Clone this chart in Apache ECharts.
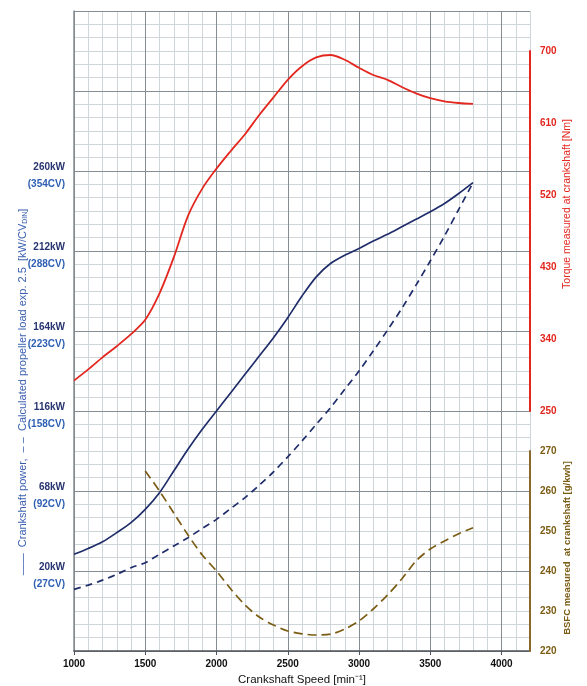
<!DOCTYPE html>
<html>
<head>
<meta charset="utf-8">
<script src="https://cdn.jsdelivr.net/npm/echarts@6/dist/echarts.min.js"></script>
<style>
html,body{margin:0;padding:0;background:#fff;}
#chart{width:587px;height:686px;}
</style>
</head>
<body>
<div id="chart"></div>
<script>
// ---- data ----
const rpm = [1000,1100,1200,1300,1400,1500,1600,1700,1800,1900,2000,2100,2200,2300,2400,2500,2600,2700,2800,2900,3000,3100,3200,3300,3400,3500,3600,3700,3800];
const powerKW = [30,33.5,37.5,43,49,57,67,80,93,105,116,127,138,149,160,172,185,196.5,204.5,209.5,213.5,218,222,226.5,231,235.5,240.5,246.5,253];
const propellerKW = [9,11.5,14.5,18,22,25,30,35,40,45.5,51,57.5,64,71.5,79.5,88.5,98,108,118,129,140,152,164.5,177.5,191.5,206,221,237,253];
const torqueNm = [288,302,317,331,346,364,397,442,494,528,553,575,596,620,642,664,681,692,695,689,679,670,664,655,647,641,637,635,634];
const bsfcRpm = [1500,1600,1700,1800,1900,2000,2100,2200,2300,2400,2500,2600,2700,2800,2900,3000,3100,3200,3300,3400,3500,3600,3700,3800];
const bsfc = [265,260,254.5,249,244,240,235.5,231.5,228.5,226.5,225,224.3,224,224.2,225.5,227.5,230.5,234,238,242.5,245.5,247.5,249.3,250.8];

const kwTicks = [20,68,116,164,212,260];
const cvTicks = [27,92,158,223,288,354];
const torqueTicks = [250,340,430,520,610,700];
const bsfcTicks = [220,230,240,250,260,270];
const xTicks = [1000,1500,2000,2500,3000,3500,4000];

const zip = (xs, ys) => xs.map((x, i) => [x, ys[i]]);

const FONT = '"Liberation Sans", Arial, sans-serif';
const NAVY = '#1f2d6b';
const RED = '#e3271f';
const BROWN = '#7b5c14';
const MAJOR = '#858c92';
const MINOR = '#cfd6d9';

const chart = echarts.init(document.getElementById('chart'), null, {renderer: 'canvas'});

const G = {left: 74, right: 57, outerBoundsMode: 'none', containLabel: false};
const option = {
  backgroundColor: '#ffffff',
  animation: false,
  grid: [
    Object.assign({top: 11, bottom: 35}, G),
    Object.assign({top: 51, bottom: 275}, G),
    Object.assign({top: 451, bottom: 35}, G)
  ],
  xAxis: [
    {gridIndex: 0, type: 'value', position: 'bottom', min: 1000, max: 4200, interval: 100, z: 1,
      axisLine: {show: false}, axisTick: {show: false}, axisLabel: {show: false},
      splitLine: {show: true, lineStyle: {color: MINOR, width: 1}}},
    {gridIndex: 0, type: 'value', position: 'bottom', min: 1000, max: 4200, interval: 500, z: 2,
      axisLine: {show: true, onZero: false, lineStyle: {color: '#4d5359', width: 1.5}},
      axisTick: {show: true, length: 4, customValues: xTicks, lineStyle: {color: '#4d5359'}},
      axisLabel: {show: true, margin: 8, color: '#111', fontFamily: FONT, fontWeight: 'bold', fontSize: 10,
        customValues: xTicks, formatter: v => String(v)},
      splitLine: {show: true, lineStyle: {color: MAJOR, width: 1}},
      name: 'Crankshaft Speed [min\u207B\u00B9]', nameLocation: 'middle', nameGap: 23,
      nameTextStyle: {color: '#111', fontFamily: FONT, fontSize: 11.5}},
    {gridIndex: 1, type: 'value', min: 1000, max: 4200, show: false},
    {gridIndex: 2, type: 'value', min: 1000, max: 4200, show: false}
  ],
  yAxis: [
    {gridIndex: 0, type: 'value', min: 0, max: 48, interval: 1, z: 1,
      axisLine: {show: false}, axisTick: {show: false}, axisLabel: {show: false},
      splitLine: {show: true, lineStyle: {color: MINOR, width: 1}}},
    {gridIndex: 0, type: 'value', position: 'left', min: 0, max: 8, interval: 1, z: 2,
      axisLine: {show: true, onZero: false, lineStyle: {color: MAJOR, width: 1.5}},
      axisTick: {show: false}, axisLabel: {show: false},
      splitLine: {show: true, lineStyle: {color: MAJOR, width: 1}}},
    {gridIndex: 0, type: 'value', min: -28, max: 356, position: 'left', z: 3,
      axisLine: {show: false}, axisTick: {show: false}, splitLine: {show: false},
      axisLabel: {show: true, margin: 9, customValues: kwTicks, align: 'right',
        padding: [9, 0, 0, 0],
        formatter: v => {
          const i = kwTicks.indexOf(v);
          return '{kw|' + v + 'kW}\n{cv|(' + cvTicks[i] + 'CV)}';
        },
        rich: {
          kw: {color: '#27346f', fontFamily: FONT, fontWeight: 'bold', fontSize: 10, lineHeight: 17, align: 'right'},
          cv: {color: '#2f5fb3', fontFamily: FONT, fontWeight: 'bold', fontSize: 10, lineHeight: 17, align: 'right'}
        }}},
    {gridIndex: 1, type: 'value', min: 250, max: 700, position: 'right', z: 10,
      axisLine: {show: true, onZero: false, lineStyle: {color: RED, width: 2}},
      axisTick: {show: false}, splitLine: {show: false},
      axisLabel: {show: true, margin: 10, customValues: torqueTicks, color: RED,
        fontFamily: FONT, fontWeight: 'bold', fontSize: 10}},
    {gridIndex: 2, type: 'value', min: 220, max: 270, position: 'right', z: 10,
      axisLine: {show: true, onZero: false, lineStyle: {color: '#8a6a2c', width: 2}},
      axisTick: {show: false}, splitLine: {show: false},
      axisLabel: {show: true, margin: 10, customValues: bsfcTicks, color: BROWN,
        fontFamily: FONT, fontWeight: 'bold', fontSize: 10}}
  ],
  series: [
    {name: 'Crankshaft power', type: 'line', xAxisIndex: 1, yAxisIndex: 2, data: zip(rpm, powerKW),
      smooth: 0.3, symbol: 'none', lineStyle: {color: NAVY, width: 1.7}, z: 5},
    {name: 'Calculated propeller load', type: 'line', xAxisIndex: 1, yAxisIndex: 2, data: zip(rpm, propellerKW),
      smooth: 0.3, symbol: 'none', lineStyle: {color: NAVY, width: 1.7, type: [7, 5]}, z: 5},
    {name: 'Torque', type: 'line', xAxisIndex: 2, yAxisIndex: 3, data: zip(rpm, torqueNm),
      smooth: 0.3, symbol: 'none', lineStyle: {color: RED, width: 1.8}, z: 5},
    {name: 'BSFC', type: 'line', xAxisIndex: 3, yAxisIndex: 4, data: zip(bsfcRpm, bsfc),
      smooth: 0.3, symbol: 'none', lineStyle: {color: BROWN, width: 1.7, type: [9, 5]}, z: 5}
  ],
  graphic: [
    {type: 'text', x: 23, y: 392, rotation: Math.PI / 2,
      style: {
        text: '{t|\u2014\u2014  Crankshaft power,  \u2013 \u2013  Calculated propeller load exp. 2.5  [kW/CV}{s|DIN}{t|]}',
        align: 'center', verticalAlign: 'middle',
        rich: {
          t: {fill: '#3a5fb0', fontFamily: FONT, fontSize: 11},
          s: {fill: '#3a5fb0', fontFamily: FONT, fontSize: 7, padding: [5, 0, 0, 0]}
        }
      }},
    {type: 'text', x: 567, y: 204, rotation: Math.PI / 2,
      style: {text: 'Torque measured at crankshaft [Nm]', align: 'center', verticalAlign: 'middle',
        fill: RED, fontFamily: FONT, fontSize: 10.5}},
    {type: 'text', x: 567, y: 548, rotation: Math.PI / 2,
      style: {text: 'BSFC measured  at crankshaft [g/kwh]', align: 'center', verticalAlign: 'middle',
        fill: BROWN, fontFamily: FONT, fontSize: 9.5, fontWeight: 'bold'}}
  ]
};
chart.setOption(option);
</script>
</body>
</html>
